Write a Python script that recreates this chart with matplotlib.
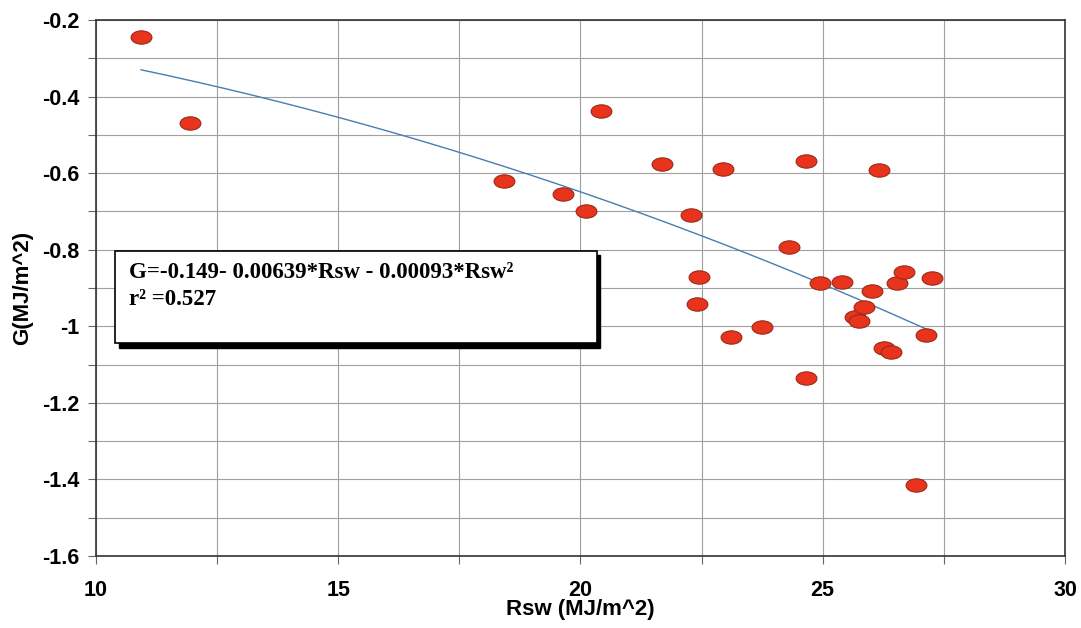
import numpy as np
import matplotlib.pyplot as plt
from matplotlib.path import Path
from matplotlib.patches import Rectangle
from matplotlib.ticker import MultipleLocator

# 読み取ったデータ（Rsw, G）
rsw = [10.93, 11.94, 18.42, 19.63, 20.12, 20.43, 21.69, 22.29, 22.44, 22.40,
       22.95, 23.10, 23.74, 24.30, 24.65, 24.65, 24.94, 25.39, 25.66, 25.74,
       25.85, 26.01, 26.16, 26.26, 26.40, 26.53, 26.67, 26.92, 27.13, 27.25]
g = [-0.245, -0.470, -0.620, -0.655, -0.700, -0.438, -0.577, -0.710, -0.870, -0.943,
     -0.590, -1.027, -1.001, -0.794, -0.569, -1.135, -0.888, -0.883, -0.975, -0.985,
     -0.949, -0.907, -0.593, -1.057, -1.066, -0.886, -0.857, -1.415, -1.022, -0.873]

# 回帰式の係数（グラフ中の式より）
c0, c1, c2 = -0.149, -0.00639, -0.00093
eq_text = "G=-0.149- 0.00639*Rsw - 0.00093*Rsw\u00b2"
r2_text = "r\u00b2 =0.527"

fig = plt.figure(figsize=(10.81, 6.28), dpi=100)
ax = fig.add_axes([0.0888, 0.1146, 0.8964, 0.8535])

# 楕円マーカー
circ = Path.unit_circle()
ellipse = Path(circ.vertices * np.array([1.0, 0.64]), circ.codes)

x_fit = np.linspace(min(rsw), max(rsw), 200)
y_fit = c0 + c1 * x_fit + c2 * x_fit ** 2
ax.plot(x_fit, y_fit, color="#4a7db0", lw=1.0, zorder=3)
ax.plot(rsw, g, linestyle="none", marker=ellipse, markersize=15,
        markerfacecolor="#e8341c", markeredgecolor="#9a2a18", markeredgewidth=0.8, zorder=4)

ax.set_xlim(10, 30)
ax.set_ylim(-1.6, -0.2)
ax.xaxis.set_major_locator(MultipleLocator(5))
ax.xaxis.set_minor_locator(MultipleLocator(2.5))
ax.yaxis.set_major_locator(MultipleLocator(0.2))
ax.yaxis.set_minor_locator(MultipleLocator(0.1))
ax.yaxis.set_major_formatter(plt.FuncFormatter(lambda v, p: f"{v:g}"))
ax.grid(which="both", color="#a0a0a0", lw=0.8)
ax.set_axisbelow(True)
for s in ax.spines.values():
    s.set_color("#333333")
    s.set_linewidth(1.2)
ax.tick_params(which="both", direction="out", color="#666666", length=6, width=0.8)
for lab in ax.get_xticklabels() + ax.get_yticklabels():
    lab.set_fontfamily("Liberation Sans")
    lab.set_fontweight("bold")
    lab.set_fontsize(15.5)
ax.tick_params(axis="x", pad=11)
ax.tick_params(axis="y", pad=6)
ax.set_xlabel("Rsw (MJ/m^2)", fontfamily="Liberation Sans", fontweight="bold", fontsize=16, labelpad=-1)
ax.set_ylabel("G(MJ/m^2)", fontfamily="Liberation Sans", fontweight="bold", fontsize=16, labelpad=6)

# 式のボックス（影付き）
bx, by, bw, bh = 0.0196, 0.397, 0.497, 0.172
sh = Rectangle((bx + 0.004, by - 0.008), bw, bh, transform=ax.transAxes,
               facecolor="black", edgecolor="black", zorder=5)
box = Rectangle((bx, by), bw, bh, transform=ax.transAxes,
                facecolor="white", edgecolor="black", lw=1.2, zorder=6)
ax.add_patch(sh)
ax.add_patch(box)
ax.text(bx + 0.014, by + bh - 0.02, eq_text, transform=ax.transAxes, va="top", ha="left",
        fontfamily="Liberation Serif", fontweight="bold", fontsize=16.5, zorder=7)
ax.text(bx + 0.014, by + bh - 0.07, r2_text, transform=ax.transAxes, va="top", ha="left",
        fontfamily="Liberation Serif", fontweight="bold", fontsize=16.5, zorder=7)

fig.savefig("out.png", dpi=100)
